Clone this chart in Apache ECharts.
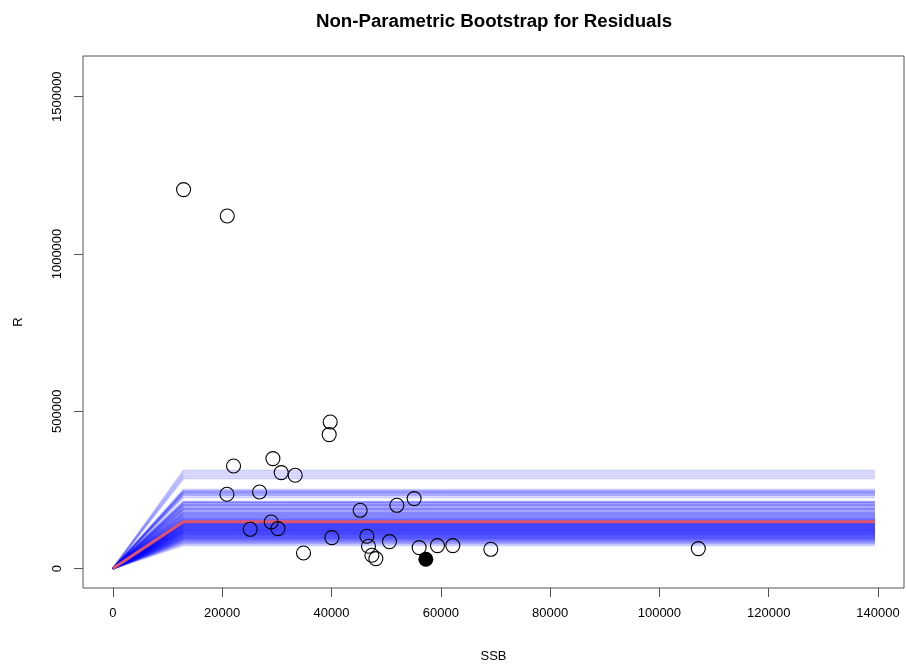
<!DOCTYPE html>
<html>
<head>
<meta charset="utf-8">
<script src="https://cdn.jsdelivr.net/npm/echarts@6/dist/echarts.min.js"></script>
<style>
  html, body { margin: 0; padding: 0; background: #fff; }
  #chart { width: 906px; height: 664px; }
</style>
</head>
<body>
<div id="chart"></div>
<script>
// observed stock / recruitment pairs
var ssb = [12931, 20924, 22076, 20869, 26831, 29282, 30800, 33361, 39762, 39580,
  25130, 28971, 30197, 34879, 40073, 45249, 46475, 46768, 47389, 48121,
  50608, 51962, 55126, 56041, 59388, 62204, 69154, 107125]
var rec = [1204700, 1120800, 326100, 236200, 243500, 349600, 305100, 296600, 466000, 425900,
  124900, 148100, 127100, 49600, 98500, 185300, 102700, 70900, 42300, 31800,
  85800, 201200, 222500, 66800, 73100, 73100, 61300, 63600]
// last year, drawn filled
var lastSSB = [57266]
var lastRec = [29600]

// hockey-stick fits: breakpoint, end of drawn line, plateau of each bootstrap run
var breakSSB = 12900
var lineEndSSB = 139450
var fitPlateau = 148800
var bootPlateau = [
  310900, 302900, 295000, 287000,
  250500, 246200, 245200, 241400, 240400, 235100, 234100, 226600,
  212800, 211800, 208100, 207100, 201900, 201200, 200500, 195300, 194300,
  189200, 188500, 187800, 182600, 181600, 176500, 175800, 175100, 170100,
  169400, 168700, 163800, 163100, 162400, 157600, 157000, 156400, 155800,
  151000, 150500, 149800, 149300,
  144900, 144300, 143700, 143100, 142600, 142000,
  138500, 137900, 137300, 136700, 136100, 135600,
  132200, 131600, 131000, 130400, 129800, 129300,
  125800, 125200, 124600, 124000, 123400, 122900,
  119500, 118900, 118300, 117700, 117100, 116600,
  113100, 112500, 111900, 111300, 110700, 110200,
  106400, 105800, 105200, 104600, 104000,
  100100, 99500, 98900, 98300, 97700,
  93700, 93100, 92500, 91900,
  87300, 86700, 86100,
  80900, 80300,
  74100
]

var xTicks = [0, 20000, 40000, 60000, 80000, 100000, 120000, 140000]
var yTicks = [0, 500000, 1000000, 1500000]

var font = 'Liberation Sans, Arial, sans-serif'

function stick (level) {
  return [[0, 0], [breakSSB, level], [lineEndSSB, level]]
}

function plain (v) {
  return String(v)
}

var series = bootPlateau.map(function (p) {
  return {
    type: 'line',
    data: stick(p),
    showSymbol: false,
    silent: true,
    z: 2,
    lineStyle: { color: '#0000ff', width: 2, opacity: 0.2 }
  }
})

series.push({
  type: 'line',
  data: stick(fitPlateau),
  showSymbol: false,
  silent: true,
  z: 3,
  lineStyle: { color: '#DF536B', width: 3 }
})

series.push({
  type: 'scatter',
  data: ssb.map(function (x, i) { return [x, rec[i]] }),
  symbol: 'circle',
  symbolSize: 14,
  z: 4,
  itemStyle: { color: 'rgba(0,0,0,0)', borderColor: '#000', borderWidth: 1.1, opacity: 1 }
})

series.push({
  type: 'scatter',
  data: lastSSB.map(function (x, i) { return [x, lastRec[i]] }),
  symbol: 'circle',
  symbolSize: 15,
  z: 4,
  itemStyle: { color: '#000', opacity: 1 }
})

var chart = echarts.init(document.getElementById('chart'))
chart.setOption({
  animation: false,
  backgroundColor: '#fff',
  title: {
    text: 'Non-Parametric Bootstrap for Residuals',
    left: 489,
    top: 7,
    textAlign: 'center',
    textStyle: { fontFamily: font, fontSize: 18.7, fontWeight: 'bold', color: '#000' }
  },
  grid: {
    left: 83, right: 2, top: 56, bottom: 76,
    outerBoundsMode: 'none',
    show: true, borderColor: '#555', borderWidth: 1, backgroundColor: 'transparent'
  },
  xAxis: {
    type: 'value',
    min: -5470,
    max: 144760,
    name: 'SSB',
    nameLocation: 'middle',
    nameGap: 62,
    nameTextStyle: { fontFamily: font, fontSize: 13, color: '#000' },
    axisLine: { show: false, onZero: false },
    axisTick: { show: true, inside: false, length: 9, customValues: xTicks, lineStyle: { color: '#555' } },
    axisLabel: { customValues: xTicks, formatter: plain, margin: 19, fontFamily: font, fontSize: 13, color: '#000' },
    splitLine: { show: false }
  },
  yAxis: {
    type: 'value',
    min: -61700,
    max: 1629400,
    name: 'R',
    nameLocation: 'middle',
    nameGap: 58,
    nameTextStyle: { fontFamily: font, fontSize: 13, color: '#000' },
    axisLine: { show: false, onZero: false },
    axisTick: { show: true, inside: false, length: 9, customValues: yTicks, lineStyle: { color: '#555' } },
    axisLabel: { customValues: yTicks, formatter: plain, rotate: 90, margin: 19, fontFamily: font, fontSize: 13, color: '#000' },
    splitLine: { show: false }
  },
  series: series
})
</script>
</body>
</html>
